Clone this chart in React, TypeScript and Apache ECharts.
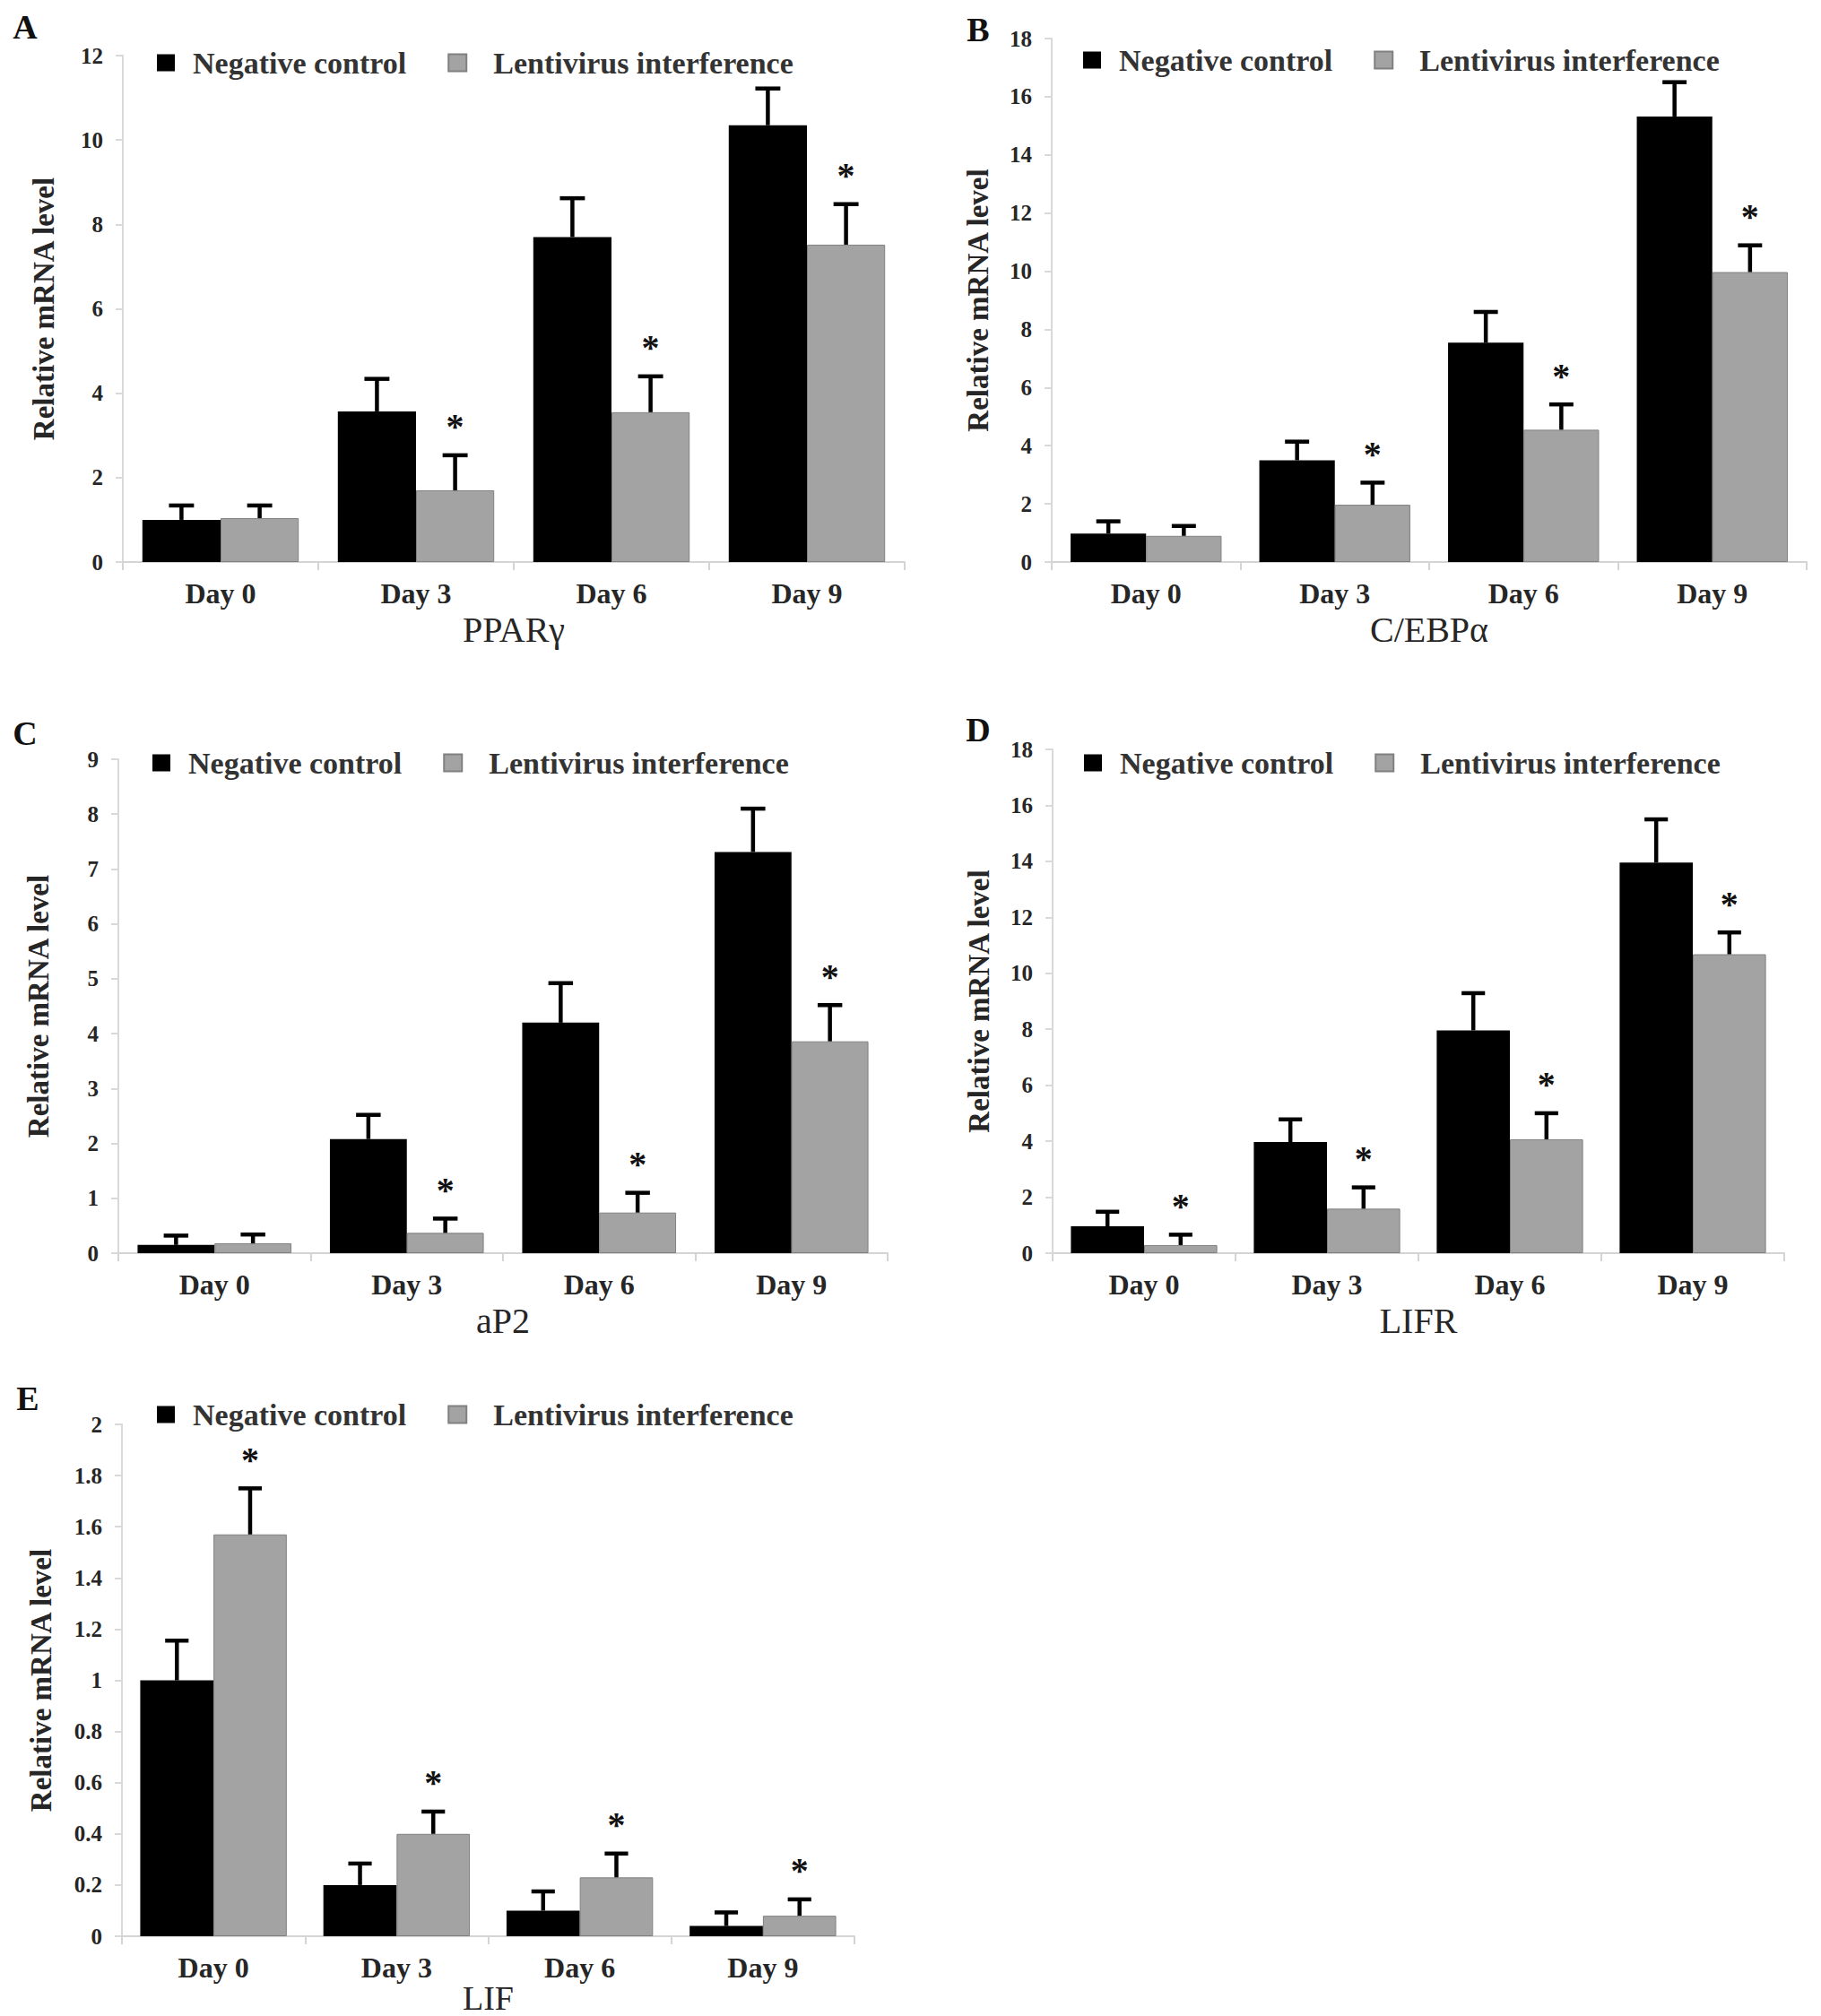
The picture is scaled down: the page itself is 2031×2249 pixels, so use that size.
import React, { useEffect, useRef } from 'react';
import * as echarts from 'echarts';

// categories shared by every panel
const days = ['Day 0', 'Day 3', 'Day 6', 'Day 9'];
const seriesNames = ['Negative control', 'Lentivirus interference'];

// A - PPARγ
const pparNC = [1.0, 3.57, 7.7, 10.35];
const pparNCErr = [0.34, 0.77, 0.92, 0.87];
const pparLI = [1.04, 1.7, 3.55, 7.52];
const pparLIErr = [0.3, 0.83, 0.85, 0.96];
const pparSig = [0, 1, 1, 1];

// B - C/EBPα
const cebpNC = [0.98, 3.5, 7.54, 15.32];
const cebpNCErr = [0.42, 0.64, 1.06, 1.18];
const cebpLI = [0.9, 1.97, 4.55, 9.97];
const cebpLIErr = [0.34, 0.76, 0.87, 0.92];
const cebpSig = [0, 1, 1, 1];

// C - aP2
const ap2NC = [0.15, 2.08, 4.2, 7.31];
const ap2NCErr = [0.17, 0.44, 0.72, 0.79];
const ap2LI = [0.18, 0.37, 0.74, 3.86];
const ap2LIErr = [0.16, 0.26, 0.36, 0.66];
const ap2Sig = [0, 1, 1, 1];

// D - LIFR
const lifrNC = [0.96, 3.97, 7.96, 13.96];
const lifrNCErr = [0.52, 0.81, 1.33, 1.54];
const lifrLI = [0.29, 1.59, 4.07, 10.68];
const lifrLIErr = [0.37, 0.76, 0.93, 0.78];
const lifrSig = [1, 1, 1, 1];

// E - LIF
const lifNC = [1.0, 0.2, 0.1, 0.04];
const lifNCErr = [0.155, 0.084, 0.075, 0.053];
const lifLI = [1.57, 0.4, 0.23, 0.08];
const lifLIErr = [0.18, 0.087, 0.093, 0.064];
const lifSig = [1, 1, 1, 1];

const serif = '"Liberation Serif", "Times New Roman", serif';
const textColor = '#262626';

interface Panel {
  letter: string;
  gene: string;
  nc: number[];
  ncErr: number[];
  li: number[];
  liErr: number[];
  sig: number[];
  max: number;
  interval: number;
  grid: { left: number; top: number; width: number; height: number };
  legend: { left: number; top: number };
  letterPos: [number, number];
  yNameGap: number;
  xNameGap: number;
  lastRow?: boolean;
}

const panels: Panel[] = [
  {
    letter: 'A', gene: 'PPARγ', nc: pparNC, ncErr: pparNCErr, li: pparLI, liErr: pparLIErr, sig: pparSig,
    max: 12, interval: 2,
    grid: { left: 137, top: 62, width: 872, height: 565 },
    legend: { left: 170, top: 48 }, letterPos: [28, 30], yNameGap: 72, xNameGap: 55,
  },
  {
    letter: 'B', gene: 'C/EBPα', nc: cebpNC, ncErr: cebpNCErr, li: cebpLI, liErr: cebpLIErr, sig: cebpSig,
    max: 18, interval: 2,
    grid: { left: 1173, top: 43, width: 842, height: 584 },
    legend: { left: 1203, top: 45 }, letterPos: [1091, 33], yNameGap: 66, xNameGap: 55,
  },
  {
    letter: 'C', gene: 'aP2', nc: ap2NC, ncErr: ap2NCErr, li: ap2LI, liErr: ap2LIErr, sig: ap2Sig,
    max: 9, interval: 1,
    grid: { left: 132, top: 847, width: 858, height: 551 },
    legend: { left: 165, top: 829 }, letterPos: [28, 818], yNameGap: 73, xNameGap: 55,
  },
  {
    letter: 'D', gene: 'LIFR', nc: lifrNC, ncErr: lifrNCErr, li: lifrLI, liErr: lifrLIErr, sig: lifrSig,
    max: 18, interval: 2,
    grid: { left: 1174, top: 836, width: 816, height: 562 },
    legend: { left: 1204, top: 829 }, letterPos: [1091, 814], yNameGap: 66, xNameGap: 55,
  },
  {
    letter: 'E', gene: 'LIF', nc: lifNC, ncErr: lifNCErr, li: lifLI, liErr: lifLIErr, sig: lifSig,
    max: 2, interval: 0.2,
    grid: { left: 136, top: 1589, width: 817, height: 571 },
    legend: { left: 170, top: 1556 }, letterPos: [31, 1560], yNameGap: 74, xNameGap: 52,
    lastRow: true,
  },
];

// error bar + asterisk, one item per bar
const renderErr = (params: any, api: any) => {
  const cat = api.value(0);
  const top = api.value(1);
  const grp = api.value(2);
  const val = api.value(3);
  const sig = api.value(4);
  const catW = api.size([1, 0])[0];
  const barW = catW * 0.4;
  const t = api.coord([cat, top]);
  const b = api.coord([cat, val]);
  const x = t[0] + (grp === 0 ? -0.5 : 0.5) * barW;
  const capW = barW * 0.32;
  const children: any[] = [
    { type: 'line', shape: { x1: x, y1: b[1], x2: x, y2: t[1] }, style: { stroke: '#000', lineWidth: 4.5 } },
    { type: 'line', shape: { x1: x - capW / 2, y1: t[1], x2: x + capW / 2, y2: t[1] }, style: { stroke: '#000', lineWidth: 4.5 } },
  ];
  if (sig) {
    children.push({
      type: 'text',
      x,
      y: t[1] - 32,
      style: {
        text: '*', fontFamily: serif, fontWeight: 'bold', fontSize: 40,
        fill: '#111', align: 'center', verticalAlign: 'middle',
      },
    });
  }
  return { type: 'group', children };
};

const App: React.FC = () => {
  const chartRef = useRef<HTMLDivElement>(null);

  useEffect(() => {
    document.body.style.margin = '0';
    if (!chartRef.current) return;
    const chart = echarts.init(chartRef.current, null, { renderer: 'svg' });

    const series: any[] = [];
    panels.forEach((p, i) => {
      series.push({
        name: seriesNames[0], type: 'bar', xAxisIndex: i, yAxisIndex: i,
        data: p.nc, barGap: '0%', barCategoryGap: '20%',
        itemStyle: { color: '#000' },
      });
      series.push({
        name: seriesNames[1], type: 'bar', xAxisIndex: i, yAxisIndex: i,
        data: p.li, barGap: '0%', barCategoryGap: '20%',
        itemStyle: { color: '#a3a3a3', borderColor: '#808080', borderWidth: 1 },
      });
      const errs: number[][] = [];
      p.nc.forEach((v, k) => errs.push([k, v + p.ncErr[k], 0, v, 0]));
      p.li.forEach((v, k) => errs.push([k, v + p.liErr[k], 1, v, p.sig[k]]));
      series.push({
        type: 'custom', xAxisIndex: i, yAxisIndex: i, z: 5,
        renderItem: renderErr, encode: { x: 0, y: 1 }, data: errs, silent: true,
      });
    });

    const legendText = { fontFamily: serif, fontWeight: 'bold', fontSize: 34, color: '#333' };

    const option: any = {
      animation: false,
      backgroundColor: '#fff',
      grid: panels.map((p) => ({ ...p.grid, outerBoundsMode: 'none', containLabel: false })),
      legend: panels.map((p) => ({
        left: p.legend.left, top: p.legend.top,
        data: [
          { name: seriesNames[0], textStyle: { ...legendText, padding: [0, 0, 0, 15] } },
          { name: seriesNames[1], textStyle: { ...legendText, padding: [0, 0, 0, 25] } },
        ],
        itemWidth: 20, itemHeight: 19, itemGap: 46, icon: 'rect',
        textStyle: legendText,
      })),
      xAxis: panels.map((p, i) => ({
        type: 'category', gridIndex: i, data: days,
        name: p.gene, nameLocation: 'middle', nameGap: p.xNameGap,
        // the bottom panel's name sits at the page edge, keep it inside
        nameMoveOverlap: p.lastRow ? false : undefined,
        nameTextStyle: p.lastRow
          ? { fontFamily: serif, fontSize: 38, lineHeight: 34, color: textColor }
          : { fontFamily: serif, fontSize: 40, color: textColor },
        axisLine: { lineStyle: { color: '#d4d4d4', width: 2 } },
        axisTick: { show: true, alignWithLabel: false, length: 9, lineStyle: { color: '#d4d4d4', width: 2 } },
        axisLabel: { fontFamily: serif, fontWeight: 'bold', fontSize: 32, color: textColor, margin: 19 },
      })),
      yAxis: panels.map((p, i) => ({
        type: 'value', gridIndex: i, min: 0, max: p.max, interval: p.interval,
        name: 'Relative mRNA level', nameLocation: 'middle', nameGap: p.yNameGap, nameMoveOverlap: false,
        nameTextStyle: { fontFamily: serif, fontWeight: 'bold', fontSize: 33, color: textColor },
        axisLine: { show: true, lineStyle: { color: '#d9d9d9', width: 2 } },
        axisTick: { show: true, length: 8, lineStyle: { color: '#d9d9d9', width: 2 } },
        splitLine: { show: false },
        axisLabel: { fontFamily: serif, fontWeight: 'bold', fontSize: 25, color: textColor, margin: 22 },
      })),
      graphic: panels.map((p) => ({
        type: 'text', x: p.letterPos[0], y: p.letterPos[1],
        style: {
          text: p.letter, fontFamily: serif, fontWeight: 'bold', fontSize: 38,
          fill: '#111', align: 'center', verticalAlign: 'middle',
        },
      })),
      series,
    };

    chart.setOption(option);
    return () => {
      chart.dispose();
    };
  }, []);

  return <div ref={chartRef} style={{ width: 2031, height: 2249 }} />;
};

export default App;
